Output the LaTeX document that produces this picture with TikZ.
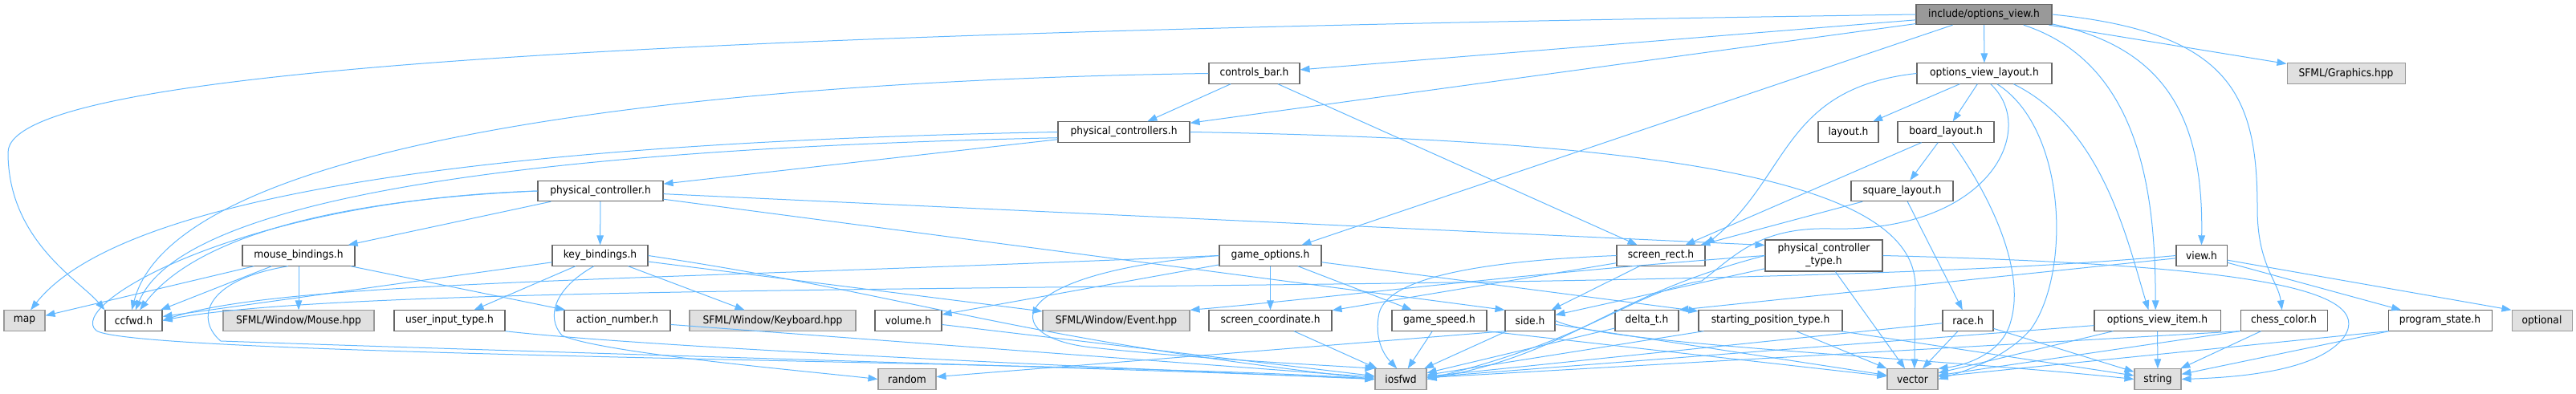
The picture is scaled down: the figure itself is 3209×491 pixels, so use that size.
\documentclass[tikz,border=0pt]{standalone}
\usepackage{fontspec}
\newfontfamily\dgfont{DejaVu Sans}[FakeStretch=0.92]
\usepackage{xcolor}
\usepackage{tikz}
\usetikzlibrary{arrows.meta}
\definecolor{edgeblue}{HTML}{63B8FF}
\definecolor{boxline}{HTML}{666666}
\definecolor{extline}{HTML}{999999}
\definecolor{extfill}{HTML}{E0E0E0}
\definecolor{mainfill}{HTML}{999999}

\begin{document}
\begin{tikzpicture}[
  x=0.75pt, y=-0.75pt,
  font=\dgfont,
  box/.style={draw=boxline, fill=white, line width=0.8pt, align=center,
    inner xsep=2pt, inner ysep=1pt, minimum height=19pt},
  extbox/.style={box, draw=extline, fill=extfill},
  mainbox/.style={box, fill=mainfill},
  flow/.style={-{Triangle[length=9pt, width=6.5pt]}, line width=0.75pt,
    draw=edgeblue}
]
\useasboundingbox (0,0) rectangle (3209,491);

\node[mainbox, minimum width=126.75pt] (ov) at (2471.5,18) {include/options\_view.h};

\node[box, minimum width=84.75pt] (cbar) at (1562.5,91.5) {controls\_bar.h};
\node[box, minimum width=126pt] (ovl) at (2472,91.5) {options\_view\_layout.h};
\node[extbox, minimum width=110.25pt] (sfgfx) at (2922.5,91.5) {SFML/Graphics.hpp};

\node[box, minimum width=123pt] (pcs) at (1400,164.5) {physical\_controllers.h};
\node[box, minimum width=56.25pt] (layout) at (2302.5,164.5) {layout.h};
\node[box, minimum width=90pt] (blayout) at (2424,164.5) {board\_layout.h};

\node[box, minimum width=117pt] (pc) at (748,238) {physical\_controller.h};
\node[box, minimum width=95.25pt] (sqlayout) at (2369.5,238) {square\_layout.h};

\node[box, minimum width=105pt] (mouseb) at (372,318.5) {mouse\_bindings.h};
\node[box, minimum width=89.25pt] (keyb) at (747.5,318.5) {key\_bindings.h};
\node[box, minimum width=95.25pt] (gopt) at (1582.5,318.5) {game\_options.h};
\node[box, minimum width=82.5pt] (srect) at (2069,318.5) {screen\_rect.h};
\node[box, minimum width=109.5pt, minimum height=29.25pt] (pctype) at (2272,318.5)
  {physical\_controller\\\_type.h};
\node[box, minimum width=47.25pt] (view) at (2742.5,318.5) {view.h};

\node[extbox, minimum width=38.25pt] (map) at (30.5,399.5) {map};
\node[box, minimum width=53.25pt] (ccfwd) at (166.5,399.5) {ccfwd.h};
\node[extbox, minimum width=141pt] (mouse) at (372,399.5) {SFML/Window/Mouse.hpp};
\node[box, minimum width=103.5pt] (uit) at (560,399.5) {user\_input\_type.h};
\node[box, minimum width=99pt] (anum) at (769,399.5) {action\_number.h};
\node[extbox, minimum width=155.25pt] (keyboard) at (962.5,399.5) {SFML/Window/Keyboard.hpp};
\node[box, minimum width=62.25pt] (volume) at (1131.5,399.5) {volume.h};
\node[extbox, minimum width=137.25pt] (event) at (1390.5,399.5) {SFML/Window/Event.hpp};
\node[box, minimum width=114.75pt] (scoord) at (1582.5,399.5) {screen\_coordinate.h};
\node[box, minimum width=88.5pt] (gspeed) at (1793,399.5) {game\_speed.h};
\node[box, minimum width=46.5pt] (side) at (1906,399.5) {side.h};
\node[box, minimum width=59.25pt] (deltat) at (2051.5,399.5) {delta\_t.h};
\node[box, minimum width=134.25pt] (spt) at (2205.5,399.5) {starting\_position\_type.h};
\node[box, minimum width=47.25pt] (race) at (2451.5,399.5) {race.h};
\node[box, minimum width=117.75pt] (ovitem) at (2687.5,399.5) {options\_view\_item.h};
\node[box, minimum width=81pt] (ccolor) at (2845,399.5) {chess\_color.h};
\node[box, minimum width=96.75pt] (pstate) at (3039.5,399.5) {program\_state.h};
\node[extbox, minimum width=56.25pt] (optional) at (3166.5,399.5) {optional};

\node[extbox, minimum width=54pt] (random) at (1130,472.5) {random};
\node[extbox, minimum width=48pt] (iosfwd) at (1745,472.5) {iosfwd};
\node[extbox, minimum width=47.25pt] (vector) at (2382.5,472.5) {vector};
\node[extbox, minimum width=43.5pt] (string) at (2688,472.5) {string};

% include/options_view.h
\draw[flow] (ov.west) .. controls (900,40) and (10,80) .. (10,190)
  .. controls (10,300) and (100,350) .. (ccfwd.north west);
\draw[flow] (ov) -- (cbar);
\draw[flow] (ov) -- (pcs);
\draw[flow] (ov) -- (gopt);
\draw[flow] (ov) -- (ovl);
\draw[flow] (ov.-15) .. controls (2670,80) and (2685,250) .. (ovitem.100);
\draw[flow] (ov.-8) .. controls (2700,60) and (2745,150) .. (view.north);
\draw[flow] (ov.east) .. controls (2780,40) and (2812,120) .. (2812,260)
  .. controls (2812,330) and (2838,350) .. (ccolor.100);
\draw[flow] (ov) -- (sfgfx);

% controls_bar.h, physical_controllers.h
\draw[flow] (cbar) -- (pcs);
\draw[flow] (cbar.west) .. controls (900,100) and (220,170) .. (ccfwd.100);
\draw[flow] (cbar) -- (srect);
\draw[flow] (pcs) -- (pc);
\draw[flow] (pcs.185) .. controls (700,185) and (230,240) .. (ccfwd.80);
\draw[flow] (pcs.west) .. controls (600,178) and (150,245) .. (map.60);
\draw[flow] (pcs.east) .. controls (2100,175) and (2390,230) .. (2386,360)
  -- (vector.80);

% options_view_layout.h and the layouts
\draw[flow] (ovl) -- (layout);
\draw[flow] (ovl) -- (blayout);
\draw[flow] (ovl.west) .. controls (2220,110) and (2230,220) .. (srect.north east);
\draw[flow] (ovl.-60) .. controls (2540,160) and (2480,290) .. (2280,285)
  .. controls (2190,283) and (2160,320) .. (2120,350)
  .. controls (2030,365) and (1990,420) .. (iosfwd.east);
\draw[flow] (ovl.-40) .. controls (2575,160) and (2580,340) .. (2530,410)
  .. controls (2500,445) and (2450,462) .. (vector.east);
\draw[flow] (ovl.-20) .. controls (2620,160) and (2650,300) .. (ovitem.130);
\draw[flow] (blayout) -- (sqlayout);
\draw[flow] (blayout) -- (srect);
\draw[flow] (blayout.-60) .. controls (2470,230) and (2525,330) .. (2505,400)
  .. controls (2495,440) and (2450,455) .. (vector.north east);
\draw[flow] (sqlayout) -- (srect);
\draw[flow] (sqlayout) -- (race);

% physical_controller.h
\draw[flow] (pc) -- (mouseb);
\draw[flow] (pc) -- (keyb);
\draw[flow] (pc.west) .. controls (400,250) and (240,300) .. (ccfwd.60);
\draw[flow] (pc.west) .. controls (300,250) and (80,380) .. (120,412)
  .. controls (170,445) and (1400,450) .. (iosfwd.west);
\draw[flow] (pc) -- (pctype.170);
\draw[flow] (pc) -- (side.north west);

% bindings
\draw[flow] (mouseb) -- (map);
\draw[flow] (mouseb) -- (ccfwd);
\draw[flow] (mouseb) -- (mouse);
\draw[flow] (mouseb) -- (anum);
\draw[flow] (mouseb.225) .. controls (250,350) and (245,400) .. (275,425)
  .. controls (700,440) and (1500,462) .. (iosfwd.west);
\draw[flow] (keyb) -- (ccfwd);
\draw[flow] (keyb) -- (uit);
\draw[flow] (keyb) -- (keyboard);
\draw[flow] (keyb) -- (event);
\draw[flow] (keyb.east) .. controls (1150,370) and (1250,420) .. (iosfwd.west);
\draw[flow] (keyb.240) .. controls (690,360) and (680,395) .. (700,418)
  .. controls (750,440) and (1000,462) .. (random.west);
\draw[flow] (uit.south east) .. controls (800,432) and (1300,455) .. (iosfwd.west);
\draw[flow] (anum) -- (iosfwd);
\draw[flow] (volume) -- (iosfwd);

% game_options.h
\draw[flow] (gopt.west) .. controls (800,350) and (350,350) .. (ccfwd.east);
\draw[flow] (gopt) -- (volume);
\draw[flow] (gopt) -- (scoord);
\draw[flow] (gopt) -- (gspeed);
\draw[flow] (gopt) -- (spt);
\draw[flow] (gopt.west) .. controls (1250,340) and (1240,420) .. (1360,433)
  .. controls (1500,448) and (1650,455) .. (iosfwd.north west);

% screen_rect.h, physical_controller_type.h, view.h
\draw[flow] (srect) -- (side);
\draw[flow] (srect) -- (scoord);
\draw[flow] (srect.west) .. controls (1850,325) and (1730,345) .. (1718,390)
  .. controls (1712,420) and (1722,440) .. (iosfwd.110);
\draw[flow] (pctype) -- (side);
\draw[flow] (pctype.west) .. controls (2000,370) and (1960,440) .. (iosfwd.east);
\draw[flow] (pctype) -- (vector);
\draw[flow] (pctype.east) .. controls (2800,330) and (2960,360) .. (2920,420)
  .. controls (2890,460) and (2800,470) .. (string.east);
\draw[flow] (pctype.west) .. controls (1900,340) and (1650,372) .. (event.north east);
\draw[flow] (view.west) .. controls (2100,375) and (500,340) .. (ccfwd.east);
\draw[flow] (view) -- (deltat.north east);
\draw[flow] (view) -- (pstate);
\draw[flow] (view) -- (optional.north west);

% lower row
\draw[flow] (scoord) -- (iosfwd);
\draw[flow] (gspeed) -- (iosfwd);
\draw[flow] (gspeed.south east) -- (vector);
\draw[flow] (side) -- (iosfwd);
\draw[flow] (side) -- (vector);
\draw[flow] (side.east) .. controls (2000,430) and (2400,445) .. (string.west);
\draw[flow] (side.south west) -- (random);
\draw[flow] (deltat) -- (iosfwd);
\draw[flow] (spt) -- (iosfwd);
\draw[flow] (spt) -- (vector);
\draw[flow] (spt) -- (string);
\draw[flow] (race) -- (iosfwd);
\draw[flow] (race) -- (vector);
\draw[flow] (race) -- (string);
\draw[flow] (ovitem) -- (iosfwd);
\draw[flow] (ovitem) -- (vector);
\draw[flow] (ovitem) -- (string);
\draw[flow] (ccolor.south west) -- (iosfwd);
\draw[flow] (ccolor.south west) -- (vector);
\draw[flow] (ccolor) -- (string);
\draw[flow] (pstate) -- (string);
\draw[flow] (pstate.south west) -- (vector);
\end{tikzpicture}
\end{document}
